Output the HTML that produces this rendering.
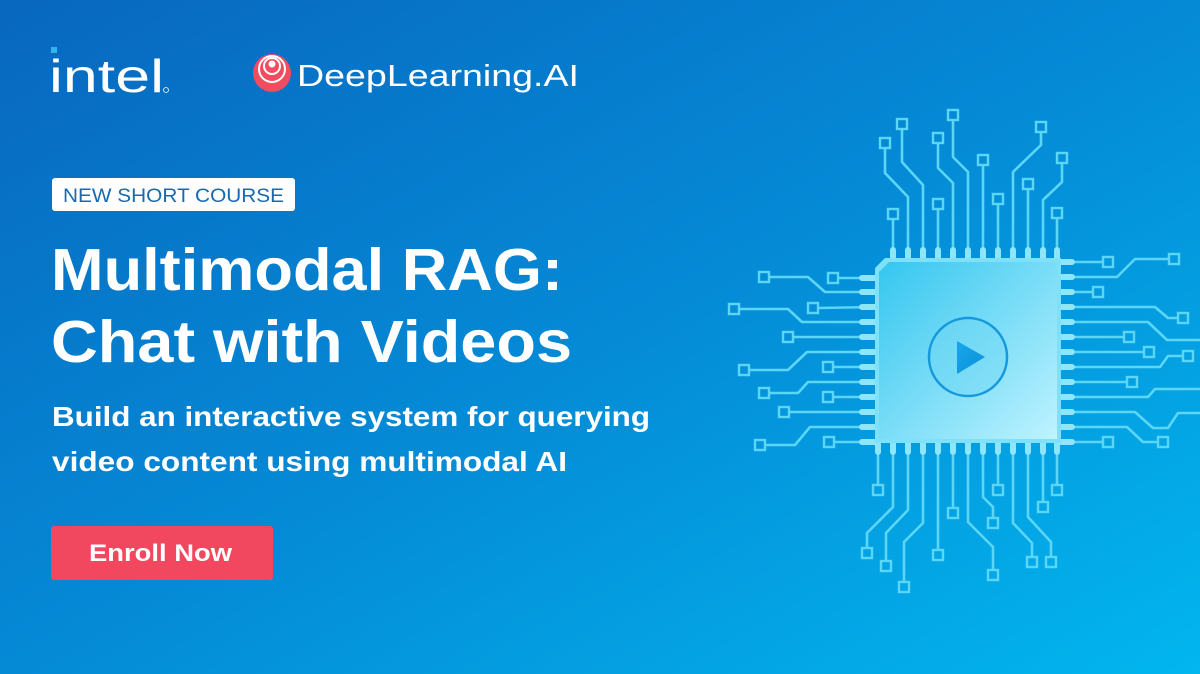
<!DOCTYPE html>
<html><head><meta charset="utf-8"><style>
html,body{margin:0;padding:0;width:1200px;height:674px;overflow:hidden}
svg{display:block}
text{font-family:"Liberation Sans",sans-serif}
</style></head><body>
<svg width="1200" height="674" viewBox="0 0 1200 674" xmlns="http://www.w3.org/2000/svg">
<defs>
<linearGradient id="bg" x1="0" y1="0" x2="1" y2="1">
<stop offset="0" stop-color="#0867bf"/><stop offset="0.5" stop-color="#058ad6"/><stop offset="1" stop-color="#02b6ee"/>
</linearGradient>
<linearGradient id="chip" x1="0" y1="0" x2="1" y2="1">
<stop offset="0" stop-color="#34c6ef"/><stop offset="1" stop-color="#bff3ff"/>
</linearGradient>
<linearGradient id="play" x1="0" y1="0" x2="1" y2="1">
<stop offset="0" stop-color="#17a8e8"/><stop offset="1" stop-color="#0b8fdc"/>
</linearGradient>
</defs>
<rect width="1200" height="674" fill="url(#bg)"/>

<!-- logos -->
<rect x="51" y="47" width="6" height="6" fill="#2fb4ee"/>
<text x="49" y="92" font-size="46" fill="#fff" textLength="115" lengthAdjust="spacingAndGlyphs">intel</text>
<circle cx="166" cy="90" r="2.5" fill="none" stroke="#fff" stroke-width="0.8"/>
<circle cx="272" cy="73" r="19" fill="#f24c5f"/>
<circle cx="272" cy="69" r="13" fill="none" stroke="#fff" stroke-width="2"/>
<circle cx="272" cy="66" r="8" fill="none" stroke="#fff" stroke-width="2"/>
<circle cx="272" cy="64" r="3.5" fill="#fff"/>
<text x="297" y="86" font-size="31" fill="#fff" textLength="282" lengthAdjust="spacingAndGlyphs">DeepLearning.AI</text>

<!-- tag -->
<rect x="52" y="178" width="243" height="33" rx="3" fill="#fff"/>
<text x="63" y="202" font-size="19" fill="#1769b3" textLength="221" lengthAdjust="spacingAndGlyphs">NEW SHORT COURSE</text>

<!-- title -->
<text x="51" y="290" font-size="59" font-weight="bold" fill="#fff" textLength="512" lengthAdjust="spacingAndGlyphs">Multimodal RAG:</text>
<text x="51" y="362" font-size="59" font-weight="bold" fill="#fff" textLength="521" lengthAdjust="spacingAndGlyphs">Chat with Videos</text>
<text x="52" y="426" font-size="28" font-weight="bold" fill="#fff" textLength="598" lengthAdjust="spacingAndGlyphs">Build an interactive system for querying</text>
<text x="52" y="471" font-size="28" font-weight="bold" fill="#fff" textLength="515" lengthAdjust="spacingAndGlyphs">video content using multimodal AI</text>

<rect x="51" y="526" width="222" height="54" rx="3" fill="#f2485f"/>
<text x="89" y="561" font-size="24" font-weight="bold" fill="#fff" textLength="143" lengthAdjust="spacingAndGlyphs">Enroll Now</text>

<!-- circuit -->
<g fill="none" stroke="#5cd6f6" stroke-width="2.6" stroke-linejoin="round">
<polyline points="893,258 893,218"/>
<polyline points="908,258 908,197 885,173 885,148"/>
<polyline points="923,258 923,185 902,162 902,129"/>
<polyline points="938,258 938,209"/>
<polyline points="953,258 953,183 938,168 938,143"/>
<polyline points="968,258 968,172 953,157 953,120"/>
<polyline points="983,258 983,165"/>
<polyline points="998,258 998,204"/>
<polyline points="1013,258 1013,172 1041,145 1041,132"/>
<polyline points="1028,258 1028,189"/>
<polyline points="1043,258 1043,200 1062,182 1062,163"/>
<polyline points="1057,258 1057,218"/>
<polyline points="878,442 878,485"/>
<polyline points="893,442 893,507 867,533 867,548"/>
<polyline points="908,442 908,510 886,533 886,561"/>
<polyline points="923,442 923,523 904,542 904,582"/>
<polyline points="938,442 938,550"/>
<polyline points="953,442 953,508"/>
<polyline points="968,442 968,522 993,547 993,570"/>
<polyline points="983,442 983,497 993,507 993,518"/>
<polyline points="998,442 998,485"/>
<polyline points="1013,442 1013,523 1032,543 1032,557"/>
<polyline points="1028,442 1028,517 1051,542 1051,557"/>
<polyline points="1043,442 1043,502"/>
<polyline points="1057,442 1057,485"/>
<polyline points="875,278 838,278"/>
<polyline points="875,292 825,292 808,277 769,277"/>
<polyline points="875,307 818,308"/>
<polyline points="875,322 802,322 788,309 739,309"/>
<polyline points="875,337 793,337"/>
<polyline points="875,352 807,352 788,370 749,370"/>
<polyline points="875,367 833,367"/>
<polyline points="875,382 808,382 798,393 769,393"/>
<polyline points="875,397 833,397"/>
<polyline points="875,412 789,412"/>
<polyline points="875,427 810,427 795,445 765,445"/>
<polyline points="875,442 834,442"/>
<polyline points="1060,262 1103,262"/>
<polyline points="1060,277 1117,277 1135,259 1169,259"/>
<polyline points="1060,292 1093,292"/>
<polyline points="1060,307 1155,307 1168,318 1178,318"/>
<polyline points="1060,322 1148,322 1167,340 1200,340"/>
<polyline points="1060,337 1124,337"/>
<polyline points="1060,352 1144,352"/>
<polyline points="1060,367 1160,367 1168,356 1183,356"/>
<polyline points="1060,382 1127,382"/>
<polyline points="1060,397 1148,397 1155,389 1200,389"/>
<polyline points="1060,412 1135,412 1153,428 1168,428 1178,413 1200,413"/>
<polyline points="1060,427 1127,427 1143,442 1158,442"/>
<polyline points="1060,442 1103,442"/>
</g>
<g fill="none" stroke="#5cd6f6" stroke-width="2.4">
<rect x="888" y="209" width="10" height="10"/><rect x="880" y="138" width="10" height="10"/>
<rect x="897" y="119" width="10" height="10"/><rect x="933" y="199" width="10" height="10"/>
<rect x="933" y="133" width="10" height="10"/><rect x="948" y="110" width="10" height="10"/>
<rect x="978" y="155" width="10" height="10"/><rect x="993" y="194" width="10" height="10"/>
<rect x="1036" y="122" width="10" height="10"/><rect x="1023" y="179" width="10" height="10"/>
<rect x="1057" y="153" width="10" height="10"/><rect x="1052" y="208" width="10" height="10"/>
<rect x="873" y="485" width="10" height="10"/><rect x="862" y="548" width="10" height="10"/>
<rect x="881" y="561" width="10" height="10"/><rect x="899" y="582" width="10" height="10"/>
<rect x="933" y="550" width="10" height="10"/><rect x="948" y="508" width="10" height="10"/>
<rect x="988" y="570" width="10" height="10"/><rect x="988" y="518" width="10" height="10"/>
<rect x="993" y="485" width="10" height="10"/><rect x="1027" y="557" width="10" height="10"/>
<rect x="1046" y="557" width="10" height="10"/><rect x="1038" y="502" width="10" height="10"/>
<rect x="1052" y="485" width="10" height="10"/>
<rect x="828" y="273" width="10" height="10"/><rect x="759" y="272" width="10" height="10"/>
<rect x="808" y="303" width="10" height="10"/><rect x="729" y="304" width="10" height="10"/>
<rect x="783" y="332" width="10" height="10"/><rect x="739" y="365" width="10" height="10"/>
<rect x="823" y="362" width="10" height="10"/><rect x="759" y="388" width="10" height="10"/>
<rect x="823" y="392" width="10" height="10"/><rect x="779" y="407" width="10" height="10"/>
<rect x="755" y="440" width="10" height="10"/><rect x="824" y="437" width="10" height="10"/>
<rect x="1103" y="257" width="10" height="10"/><rect x="1169" y="254" width="10" height="10"/>
<rect x="1093" y="287" width="10" height="10"/><rect x="1178" y="313" width="10" height="10"/>
<rect x="1124" y="332" width="10" height="10"/><rect x="1144" y="347" width="10" height="10"/>
<rect x="1183" y="351" width="10" height="10"/><rect x="1127" y="377" width="10" height="10"/>
<rect x="1158" y="437" width="10" height="10"/><rect x="1103" y="437" width="10" height="10"/>
</g>
<g stroke="#8ee6fb" stroke-width="6" stroke-linecap="round">
<path d="M893 250V262M908 250V262M923 250V262M938 250V262M953 250V262M968 250V262M983 250V262M998 250V262M1013 250V262M1028 250V262M1043 250V262M1057 250V262"/>
<path d="M878 438V452M893 438V452M908 438V452M923 438V452M938 438V452M953 438V452M968 438V452M983 438V452M998 438V452M1013 438V452M1028 438V452M1043 438V452M1057 438V452"/>
<path d="M862 278H878M862 292H878M862 307H878M862 322H878M862 337H878M862 352H878M862 367H878M862 382H878M862 397H878M862 412H878M862 427H878M862 442H878"/>
<path d="M1057 262H1072M1057 277H1072M1057 292H1072M1057 307H1072M1057 322H1072M1057 337H1072M1057 352H1072M1057 367H1072M1057 382H1072M1057 397H1072M1057 412H1072M1057 427H1072M1057 442H1072"/>
</g>
<path d="M885 258 L1061 258 L1061 443 L875 443 L875 268 Z" fill="#7fe0fa"/>
<path d="M889 262 L1057 262 L1057 439 L879 439 L879 272 Z" fill="url(#chip)"/>
<circle cx="968" cy="357" r="39" fill="#6fd8f6" fill-opacity="0.4" stroke="#1599dc" stroke-width="2.5"/>
<path d="M957 341 L985 357 L957 374 Z" fill="url(#play)"/>
</svg>
</body></html>
